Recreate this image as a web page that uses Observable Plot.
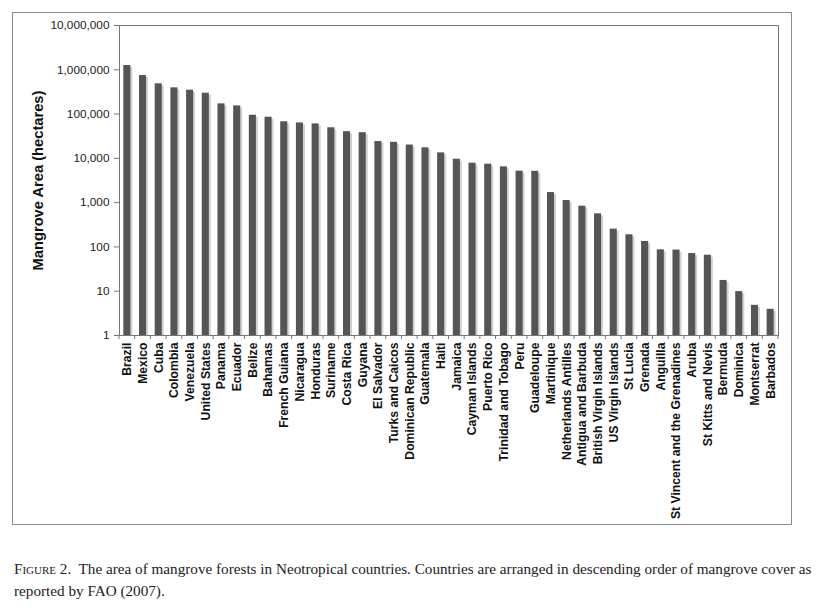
<!DOCTYPE html>
<html>
<head>
<meta charset="utf-8">
<script src="https://cdn.jsdelivr.net/npm/d3@7"></script>
<script src="https://cdn.jsdelivr.net/npm/@observablehq/plot@0.6"></script>
<style>
  html, body { margin: 0; padding: 0; background: #fff; }
  #wrap { position: relative; width: 821px; height: 610px; }
  #outer { position: absolute; left: 12px; top: 12px; width: 780px; height: 513px; border: 1.5px solid #8a8a8a; box-sizing: border-box; }
  #chart { position: absolute; left: 0; top: 0; }
  #caption { position: absolute; left: 14px; top: 558px; font-family: "Liberation Serif", "DejaVu Serif", serif; font-size: 15.2px; line-height: 22px; color: #222; white-space: nowrap; }
  #caption .fig { font-variant: small-caps; }
</style>
</head>
<body>
<div id="wrap">
  <div id="outer"></div>
  <div id="chart"></div>
  <div id="caption"><span class="fig">Figure 2.</span>&nbsp; The area of mangrove forests in Neotropical countries. Countries are arranged in descending order of mangrove cover as<br>reported by FAO (2007).</div>
</div>
<script>
const countries = ["Brazil","Mexico","Cuba","Colombia","Venezuela","United States","Panama","Ecuador","Belize","Bahamas",
  "French Guiana","Nicaragua","Honduras","Suriname","Costa Rica","Guyana","El Salvador","Turks and Caicos","Dominican Republic","Guatemala",
  "Haiti","Jamaica","Cayman Islands","Puerto Rico","Trinidad and Tobago","Peru","Guadeloupe","Martinique","Netherlands Antilles","Antigua and Barbuda",
  "British Virgin Islands","US Virgin Islands","St Lucia","Grenada","Anguilla","St Vincent and the Grenadines","Aruba","St Kitts and Nevis","Bermuda","Dominica",
  "Montserrat","Barbados"];
const areas = [1250000, 742000, 482000, 391000, 346000, 296000, 170000, 153000, 94000, 85000,
  67000, 63000, 60000, 49000, 40000, 38000, 24000, 23000, 20000, 17300,
  13300, 9570, 7780, 7380, 6430, 5130, 5100, 1690, 1117, 832,
  559, 252, 188, 133, 86, 85, 71, 65, 17.5, 9.8,
  4.8, 3.9];
const yTicks = [1, 10, 100, 1000, 10000, 100000, 1000000, 10000000];
const yLabel = "Mangrove Area (hectares)";

const data = countries.map((c, i) => ({country: c, area: areas[i]}));

const boundaryTicks = (index, scales, values, dims) => {
  const x = scales.x;
  const step = x.step();
  const off = (step - x.bandwidth()) / 2;
  const yb = dims.height - dims.marginBottom;
  const g = d3.create("svg:g").attr("stroke", "#777").attr("stroke-width", 1);
  const xs = countries.map(c => x(c) - off);
  xs.push(x(countries[countries.length - 1]) + x.bandwidth() + off);
  for (const px of xs) {
    g.append("line").attr("x1", px).attr("x2", px).attr("y1", yb).attr("y2", yb + 4);
  }
  return g.node();
};

const chart = Plot.plot({
  width: 821,
  height: 540,
  marginLeft: 119,
  marginRight: 43,
  marginTop: 25,
  marginBottom: 205,
  style: {fontFamily: "'Liberation Sans', Arial, sans-serif", fontSize: "11px", color: "#222", background: "transparent"},
  x: {domain: countries, paddingInner: 0.55, paddingOuter: 0.275, round: false, label: null},
  y: {type: "log", domain: [1, 1e7], label: null},
  marks: [
    Plot.barY(data, {x: "country", y1: 1, y2: "area", fill: "#d2d2d2", dx: 2, insetTop: 2}),
    Plot.barY(data, {x: "country", y1: 1, y2: "area", fill: "#555555"}),
    Plot.frame({stroke: "#777"}),
    Plot.axisY({ticks: yTicks, tickFormat: d3.format(","), tickSize: 5, tickPadding: 5, stroke: "#777", fill: "#222", fontSize: 11.8, label: null}),
    Plot.axisX({tickSize: 0, tickPadding: 7, tickRotate: -90, fontWeight: "bold", fontSize: 12.2, fill: "#111", label: null}),
    boundaryTicks,
    Plot.text([yLabel], {frameAnchor: "left", textAnchor: "middle", rotate: -90, dx: -81, fontWeight: "bold", fontSize: 14.7, fill: "#111"})
  ]
});
document.getElementById("chart").appendChild(chart);
</script>
</body>
</html>
